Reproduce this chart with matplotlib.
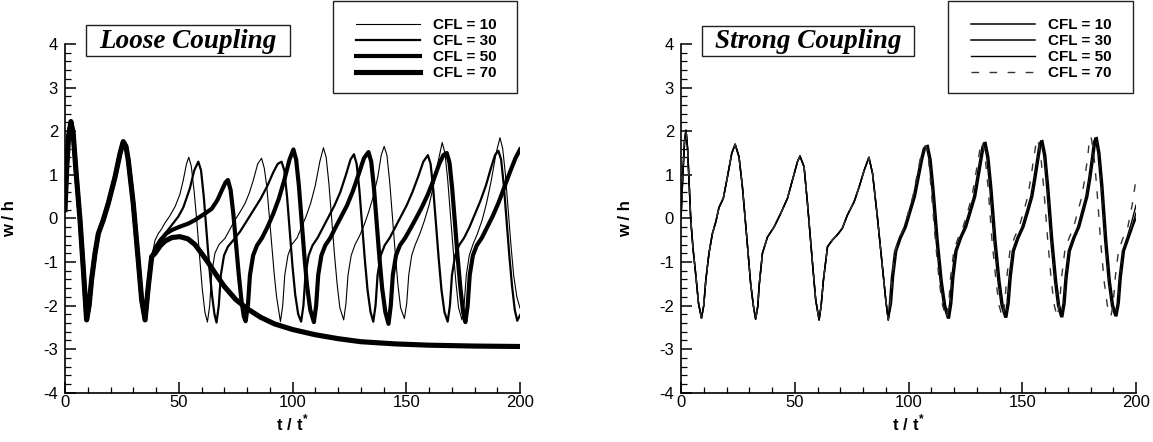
import matplotlib
matplotlib.use("Agg")
import matplotlib.pyplot as plt
from matplotlib.patches import Rectangle
from matplotlib.lines import Line2D
from matplotlib.ticker import MultipleLocator

plt.rcParams['font.family'] = ['Liberation Sans', 'DejaVu Sans']
plt.rcParams['axes.unicode_minus'] = False
plt.rcParams['mathtext.fontset'] = 'custom'
plt.rcParams['mathtext.bf'] = 'Liberation Sans:bold'
plt.rcParams['mathtext.rm'] = 'Liberation Sans'

W, H = 1153, 442

# ---------------- Loose coupling (left) ----------------
t_loose_common = [0, 0.8, 1.6, 2.6, 3.6, 4.8, 6.6, 8.1, 9.5, 10.6, 11.7, 13.2, 14.65, 16.8, 19.0,
                  22.0, 24.2, 25.6, 26.8, 27.8, 30.0, 32.2, 33.7, 35.2, 36.6, 38.1]
w_loose_common = [0.2, 1.2, 1.9, 2.22, 1.95, 1.1, -0.04, -1.2, -2.33, -2.0, -1.4, -0.8, -0.35, -0.04, 0.34,
                  0.95, 1.49, 1.76, 1.65, 1.34, 0.34, -0.96, -1.87, -2.33, -1.57, -0.88]

t_loose_10 = [39.6, 41, 42.5, 44, 46, 48.4, 50.5, 52, 53.4, 54.4, 55.5, 56.8, 58, 59.2, 60.3, 61.5, 62.6,
              63.6, 64.5, 65.9, 67.7, 70.3, 72.5, 74.7, 77, 79.1, 81, 82.8, 84.7, 86.4, 87.6, 88.7, 89.8, 90.9, 92, 93, 94.7,
              95.7, 96.6, 98, 99.7, 102, 104, 106, 108, 110, 112, 113.6, 114.8, 116, 117.2, 118.4, 119.6, 120.8, 122.5,
              123.5, 124.4, 125.8, 127.5, 129.5, 131.5, 133.5, 135.5, 137.5, 139, 140.3, 141.5, 142.7, 143.9, 145.1, 146.3, 147.5, 149.2,
              150.2, 151.1, 152.4, 154, 156, 158, 160, 162, 164, 165.8, 167, 168.2, 169.4, 170.6, 171.8, 173, 174.5,
              175.5, 176.4, 177.7, 179.3, 181.3, 183.3, 185.3, 187.3, 189.5, 191.2, 192.4, 193.6, 194.8, 196, 197.2, 198.6, 200]
w_loose_10 = [-0.5, -0.35, -0.24, -0.1, 0.05, 0.27, 0.55, 0.88, 1.25, 1.40, 1.2, 0.6, -0.1, -0.9, -1.6, -2.15, -2.38,
              -2.0, -1.26, -0.8, -0.6, -0.46, -0.25, -0.04, 0.15, 0.34, 0.58, 0.88, 1.25, 1.38, 1.15, 0.73, 0.05, -0.65, -1.3, -1.8, -2.37,
              -2.0, -1.3, -0.85, -0.6, -0.45, -0.2, 0.05, 0.35, 0.75, 1.3, 1.62, 1.4, 0.8, 0.0, -0.8, -1.5, -2.05, -2.33,
              -1.95, -1.3, -0.85, -0.6, -0.4, -0.15, 0.15, 0.5, 0.95, 1.45, 1.65, 1.45, 0.85, 0.05, -0.75, -1.5, -2.05, -2.30,
              -1.95, -1.3, -0.85, -0.6, -0.35, -0.05, 0.3, 0.75, 1.3, 1.74, 1.5, 0.9, 0.1, -0.7, -1.45, -2.05, -2.33,
              -1.95, -1.3, -0.85, -0.6, -0.35, -0.05, 0.35, 0.85, 1.5, 1.85, 1.6, 1.0, 0.2, -0.6, -1.3, -1.8, -2.06]

t_loose_30 = [39.6, 41.5, 44, 47, 49.8, 52, 54.9, 56.8, 58.6, 59.8, 61, 62.2, 63.4, 64.6, 65.7, 66.6,
              67.6, 68.5, 69.9, 71.6, 74, 77, 80, 83, 86, 89, 91.5, 93.5, 95.2, 96.4, 97.6, 98.8, 100, 101.2, 102.5, 103.8,
              104.8, 105.7, 107.1, 108.8, 111, 113.5, 116, 118.5, 121, 123.5, 125.5, 127.0, 128.2, 129.4, 130.6, 131.8, 133, 134.3, 135.5,
              136.5, 137.4, 138.8, 140.5, 142.7, 145.2, 147.7, 150.2, 152.7, 155.2, 157.5, 159.5, 160.7, 161.9, 163.1, 164.3, 165.5, 166.8, 168.2,
              169.2, 170.1, 171.5, 173.2, 175.4, 177.8, 180.2, 182.6, 185, 187.2, 189, 190.5, 191.7, 192.9, 194.1, 195.3, 196.5, 197.7, 198.8, 200]
w_loose_30 = [-0.65, -0.5, -0.35, -0.15, 0.04, 0.25, 0.69, 1.1, 1.30, 1.1, 0.5, -0.3, -1.1, -1.75, -2.2, -2.39,
              -2.0, -1.3, -0.85, -0.65, -0.5, -0.3, -0.05, 0.2, 0.45, 0.75, 1.05, 1.25, 1.30, 1.1, 0.5, -0.3, -1.1, -1.75, -2.2, -2.37,
              -2.0, -1.3, -0.85, -0.62, -0.45, -0.2, 0.05, 0.3, 0.6, 1.0, 1.35, 1.47, 1.25, 0.65, -0.15, -0.95, -1.65, -2.15, -2.37,
              -2.0, -1.3, -0.85, -0.62, -0.45, -0.2, 0.05, 0.3, 0.6, 0.95, 1.3, 1.45, 1.25, 0.65, -0.15, -0.95, -1.65, -2.15, -2.37,
              -2.0, -1.3, -0.85, -0.62, -0.45, -0.2, 0.1, 0.4, 0.75, 1.15, 1.45, 1.55, 1.35, 0.75, -0.05, -0.85, -1.55, -2.1, -2.35, -2.22]

t_loose_50 = [39.6, 42, 44.5, 46.9, 50, 54.2, 57.1, 61.5, 64.5, 67, 69, 70.5, 71.6, 72.8, 74, 75.2, 76.4, 77.6, 78.6, 79.4,
              80.4, 81.3, 82.7, 84.4, 86.6, 89, 91.5, 94, 96.5, 98.7, 100.4, 101.6, 102.8, 104, 105.2, 106.4, 107.8, 109.4,
              110.4, 111.3, 112.7, 114.4, 116.6, 119, 121.5, 124, 126.5, 129, 131.4, 133.4, 134.6, 135.8, 137, 138.2, 139.4, 140.8, 142.2,
              143.2, 144.1, 145.5, 147.2, 149.5, 152, 154.5, 157, 159.5, 162, 164.5, 166.3, 167.8, 169, 170.2, 171.4, 172.6, 173.8, 175, 176.0,
              177, 177.9, 179.3, 181, 183.2, 185.6, 188, 190.5, 193, 195.5, 198, 200]
w_loose_50 = [-0.73, -0.5, -0.35, -0.27, -0.2, -0.12, -0.04, 0.11, 0.22, 0.42, 0.65, 0.82, 0.88, 0.65, 0.1, -0.6, -1.3, -1.9, -2.25, -2.36,
              -2.0, -1.3, -0.85, -0.62, -0.45, -0.2, 0.1, 0.45, 0.9, 1.35, 1.58, 1.35, 0.75, -0.05, -0.85, -1.55, -2.1, -2.38,
              -2.0, -1.3, -0.85, -0.62, -0.45, -0.2, 0.05, 0.3, 0.62, 1.0, 1.38, 1.52, 1.3, 0.7, -0.1, -0.9, -1.6, -2.15, -2.42,
              -2.0, -1.3, -0.85, -0.62, -0.45, -0.22, 0.02, 0.27, 0.55, 0.88, 1.25, 1.45, 1.50, 1.28, 0.68, -0.1, -0.9, -1.6, -2.15, -2.38,
              -2.0, -1.3, -0.85, -0.62, -0.45, -0.2, 0.05, 0.35, 0.7, 1.05, 1.38, 1.58]

t_loose_70 = [39.6, 42, 44, 47, 50.5, 54, 57.1, 60, 63, 66, 70, 75, 80, 86, 92, 100, 110, 120, 130, 145, 160, 180, 200]
w_loose_70 = [-0.80, -0.62, -0.52, -0.44, -0.42, -0.47, -0.6, -0.8, -1.02, -1.26, -1.56, -1.86, -2.07, -2.27, -2.42,
              -2.55, -2.67, -2.76, -2.83, -2.88, -2.91, -2.93, -2.94]

# ---------------- Strong coupling (right) ----------------
t_strong_common = [0, 0.8, 1.6, 2.2, 2.9, 4.3, 5.3, 6.5, 7.7, 9.0, 10.0, 10.9, 12.3, 13.8, 15.3, 16.7, 18.6, 20.4, 22.3,
                   23.8, 25.5, 27.0, 28.9, 30.6, 31.8, 32.8, 33.8, 34.3, 35.8, 38.0, 40.9, 43.8, 46.8, 49.0, 51.2, 52.3,
                   54.1, 55.6, 57.8, 59.2, 60.7, 61.6, 62.6, 64.4, 66.5, 68.7, 70.9, 73.1, 76.1, 78.3, 80.5, 82.6,
                   84.2, 86.3, 88.5, 90.0, 91.1]
w_strong_common = [0.0, 1.0, 1.8, 2.02, 1.6, -0.04, -0.7, -1.3, -1.95, -2.29, -2.0, -1.42, -0.8, -0.35, -0.08, 0.25, 0.46, 0.95, 1.49,
                   1.70, 1.41, 0.72, -0.43, -1.49, -2.0, -2.31, -2.0, -1.57, -0.80, -0.43, -0.2, 0.11, 0.46, 0.88, 1.3, 1.43,
                   1.18, 0.34, -1.03, -1.87, -2.33, -2.0, -1.42, -0.65, -0.5, -0.38, -0.23, 0.07, 0.38, 0.72, 1.1, 1.40,
                   1.03, 0.04, -1.1, -1.87, -2.33]

t_strong_10 = [92.1, 93.0, 94.4, 96.4, 98.6, 100.6, 102.6, 104.1, 105.8, 107.0, 108.2, 109.5, 110.8, 112.6, 114.4, 115.9, 117.6,
               118.6, 119.5, 120.9, 122.9, 125.1, 127.1, 129.1, 130.4, 131.9, 132.8, 133.6, 134.9, 136.2, 138.0, 139.8, 141.2, 142.8,
               143.8, 144.7, 146.1, 148.1, 150.3, 152.3, 154.2, 155.5, 156.9, 157.8, 158.6, 159.9, 161.2, 163.0, 164.7, 166.0, 167.4,
               168.4, 169.3, 170.7, 172.7, 174.8, 176.6, 178.4, 179.7, 181.0, 181.8, 182.5, 183.7, 185.0, 186.7, 188.3, 189.7, 191.2,
               192.2, 193.1, 194.5, 196.5, 198.5, 200]
w_strong_10 = [-1.95, -1.35, -0.75, -0.45, -0.2, 0.15, 0.5, 0.9, 1.35, 1.6, 1.67, 1.35, 0.65, -0.5, -1.45, -2.0, -2.29,
               -1.95, -1.35, -0.75, -0.45, -0.2, 0.15, 0.5, 0.9, 1.35, 1.65, 1.74, 1.4, 0.7, -0.5, -1.45, -2.0, -2.27,
               -1.95, -1.35, -0.75, -0.45, -0.2, 0.15, 0.5, 0.9, 1.38, 1.68, 1.78, 1.45, 0.72, -0.5, -1.45, -2.0, -2.26,
               -1.95, -1.35, -0.75, -0.45, -0.2, 0.15, 0.5, 0.92, 1.42, 1.75, 1.85, 1.5, 0.75, -0.5, -1.45, -2.0, -2.24,
               -1.95, -1.35, -0.75, -0.45, -0.15, 0.12]

t_strong_30 = [92.5, 93.4, 94.8, 96.8, 99.0, 101.0, 103.0, 104.5, 106.2, 107.4, 108.6, 109.9, 111.2, 113.0, 114.8, 116.3, 118.0,
               119.0, 119.9, 121.3, 123.3, 125.5, 127.5, 129.5, 130.8, 132.3, 133.2, 134.0, 135.3, 136.6, 138.4, 140.2, 141.6, 143.2,
               144.2, 145.1, 146.5, 148.5, 150.7, 152.7, 154.6, 155.9, 157.3, 158.2, 159.0, 160.3, 161.6, 163.4, 165.1, 166.4, 167.8,
               168.8, 169.7, 171.1, 173.1, 175.2, 177.0, 178.8, 180.1, 181.4, 182.2, 182.9, 184.1, 185.4, 187.1, 188.7, 190.1, 191.6,
               192.6, 193.5, 194.9, 196.9, 198.9, 200]
w_strong_30 = [-1.95, -1.35, -0.75, -0.45, -0.2, 0.15, 0.5, 0.9, 1.35, 1.6, 1.68, 1.35, 0.65, -0.5, -1.45, -2.0, -2.29,
               -1.95, -1.35, -0.75, -0.45, -0.2, 0.15, 0.5, 0.9, 1.35, 1.65, 1.75, 1.4, 0.7, -0.5, -1.45, -2.0, -2.27,
               -1.95, -1.35, -0.75, -0.45, -0.2, 0.15, 0.5, 0.9, 1.38, 1.68, 1.79, 1.45, 0.72, -0.5, -1.45, -2.0, -2.26,
               -1.95, -1.35, -0.75, -0.45, -0.2, 0.15, 0.5, 0.92, 1.42, 1.75, 1.86, 1.5, 0.75, -0.5, -1.45, -2.0, -2.24,
               -1.95, -1.35, -0.75, -0.45, -0.15, 0.0]

t_strong_50 = [91.6, 92.5, 93.9, 95.9, 98.1, 100.1, 102.1, 103.6, 105.3, 106.5, 107.7, 109.0, 110.3, 112.1, 113.9, 115.4, 117.1,
               118.1, 119.0, 120.4, 122.4, 124.6, 126.6, 128.6, 129.9, 131.4, 132.3, 133.1, 134.4, 135.7, 137.5, 139.3, 140.7, 142.3,
               143.3, 144.2, 145.6, 147.6, 149.8, 151.8, 153.7, 155.0, 156.4, 157.3, 158.1, 159.4, 160.7, 162.5, 164.2, 165.5, 166.9,
               167.9, 168.8, 170.2, 172.2, 174.3, 176.1, 177.9, 179.2, 180.5, 181.3, 182.0, 183.2, 184.5, 186.2, 187.8, 189.2, 190.7,
               191.7, 192.6, 194.0, 196.0, 198.0, 200]
w_strong_50 = [-1.95, -1.35, -0.75, -0.45, -0.2, 0.15, 0.5, 0.9, 1.35, 1.6, 1.67, 1.35, 0.65, -0.5, -1.45, -2.0, -2.29,
               -1.95, -1.35, -0.75, -0.45, -0.2, 0.15, 0.5, 0.9, 1.35, 1.65, 1.74, 1.4, 0.7, -0.5, -1.45, -2.0, -2.27,
               -1.95, -1.35, -0.75, -0.45, -0.2, 0.15, 0.5, 0.9, 1.38, 1.68, 1.78, 1.45, 0.72, -0.5, -1.45, -2.0, -2.26,
               -1.95, -1.35, -0.75, -0.45, -0.2, 0.15, 0.5, 0.92, 1.42, 1.75, 1.85, 1.5, 0.75, -0.5, -1.45, -2.0, -2.24,
               -1.95, -1.35, -0.75, -0.45, -0.1, 0.3]

t_strong_70 = [91.9, 92.8, 94.1, 96.0, 98.1, 100.0, 101.9, 103.4, 105.1, 106.3, 107.6, 108.8, 110.0, 111.8, 113.5, 115.0, 116.7,
               117.7, 118.5, 119.9, 121.8, 124.0, 126.0, 127.9, 129.2, 130.7, 131.6, 132.4, 133.7, 135.0, 136.7, 138.5, 139.8, 141.3,
               142.3, 143.2, 144.6, 146.5, 148.6, 150.6, 152.4, 153.7, 155.1, 156.0, 156.8, 158.1, 159.4, 161.2, 162.8, 164.1, 165.4,
               166.4, 167.3, 168.7, 170.6, 172.6, 174.4, 176.2, 177.5, 178.8, 179.5, 180.2, 181.4, 182.7, 184.4, 186.0, 187.4, 189.0,
               190.0, 190.9, 192.3, 194.3, 196.4, 198.3, 200]
w_strong_70 = [-1.95, -1.35, -0.75, -0.45, -0.2, 0.15, 0.5, 0.9, 1.35, 1.6, 1.67, 1.35, 0.65, -0.5, -1.45, -2.0, -2.29,
               -1.95, -1.35, -0.75, -0.45, -0.2, 0.15, 0.5, 0.9, 1.35, 1.65, 1.76, 1.4, 0.7, -0.5, -1.45, -2.0, -2.27,
               -1.95, -1.35, -0.75, -0.45, -0.2, 0.15, 0.5, 0.9, 1.38, 1.7, 1.82, 1.45, 0.72, -0.5, -1.45, -2.0, -2.26,
               -1.95, -1.35, -0.75, -0.45, -0.2, 0.15, 0.5, 0.92, 1.42, 1.78, 1.88, 1.5, 0.75, -0.5, -1.45, -2.0, -2.24,
               -1.95, -1.35, -0.75, -0.45, -0.2, 0.3, 0.9]

cfl_labels = ['CFL = 10', 'CFL = 30', 'CFL = 50', 'CFL = 70']


def style_axes(ax):
    ax.set_xlim(0, 200)
    ax.set_ylim(-4, 4)
    ax.set_xticks([0, 50, 100, 150, 200])
    ax.set_yticks([-4, -3, -2, -1, 0, 1, 2, 3, 4])
    ax.xaxis.set_minor_locator(MultipleLocator(10))
    ax.yaxis.set_minor_locator(MultipleLocator(0.2))
    for s in ['top', 'right']:
        ax.spines[s].set_visible(False)
    for s in ['left', 'bottom']:
        ax.spines[s].set_linewidth(1.2)
    ax.tick_params(which='major', direction='in', length=8, width=1.1)
    ax.tick_params(which='minor', direction='in', length=4.5, width=0.9)
    ax.tick_params(axis='y', labelsize=12, pad=5)
    ax.tick_params(axis='x', labelsize=12, pad=2)
    ax.set_xlabel(r'$\mathbf{t\ /\ t}^{\mathbf{*}}$', fontsize=12)
    ax.set_ylabel('w / h', fontsize=12, fontweight='bold')
    ax.xaxis.set_label_coords(0.5, -0.058)
    ax.yaxis.set_label_coords(-0.105, 0.5)


def fig_rect(x0, y0, x1, y1):
    return Rectangle((x0 / W, 1 - y1 / H), (x1 - x0) / W, (y1 - y0) / H,
                     transform=fig.transFigure, fill=False, edgecolor='#222222', linewidth=1.0)


fig = plt.figure(figsize=(W / 100, H / 100), dpi=100)
axL = fig.add_axes([65 / W, 1 - 392.7 / H, 455 / W, 348.7 / H])
axR = fig.add_axes([681 / W, 1 - 392.7 / H, 455 / W, 348.7 / H])

lw_loose = [0.8, 1.6, 3.0, 3.7]
axL.plot(t_loose_common + t_loose_10, w_loose_common + w_loose_10, color='black', lw=lw_loose[0])
axL.plot(t_loose_common + t_loose_30, w_loose_common + w_loose_30, color='black', lw=lw_loose[1])
axL.plot(t_loose_common + t_loose_50, w_loose_common + w_loose_50, color='black', lw=lw_loose[2])
axL.plot(t_loose_common + t_loose_70, w_loose_common + w_loose_70, color='black', lw=lw_loose[3])
style_axes(axL)

dash70 = (0, (5.5, 7.5))
axR.plot(t_strong_common + t_strong_10, w_strong_common + w_strong_10, color='black', lw=1.1)
axR.plot(t_strong_common + t_strong_30, w_strong_common + w_strong_30, color='black', lw=1.1)
axR.plot(t_strong_common + t_strong_50, w_strong_common + w_strong_50, color='black', lw=1.0)
axR.plot(t_strong_common + t_strong_70, w_strong_common + w_strong_70, color='#333333', lw=1.0, linestyle=dash70)
style_axes(axR)

# title boxes
fig.add_artist(fig_rect(86, 25, 290, 56))
fig.text(188 / W, 1 - 41 / H, 'Loose Coupling', family='Liberation Serif', fontweight='bold',
         style='italic', fontsize=19.5, ha='center', va='center')
fig.add_artist(fig_rect(702, 26, 914, 56))
fig.text(808 / W, 1 - 41 / H, 'Strong Coupling', family='Liberation Serif', fontweight='bold',
         style='italic', fontsize=19.5, ha='center', va='center')

# legends
fig.add_artist(fig_rect(333, 1, 517, 93))
fig.add_artist(fig_rect(948, 1, 1133, 93))
hL = [Line2D([], [], color='black', lw=w) for w in lw_loose]
hR = [Line2D([], [], color='black', lw=1.1), Line2D([], [], color='black', lw=1.1),
      Line2D([], [], color='black', lw=1.0), Line2D([], [], color='#333333', lw=1.0, linestyle=dash70)]
for handles, x0 in [(hL, 356), (hR, 971)]:
    fig.legend(handles, cfl_labels, loc='upper left', bbox_to_anchor=(x0 / W, 1 - 18 / H),
               frameon=False, borderpad=0, borderaxespad=0, handlelength=4.2, handletextpad=0.85,
               labelspacing=0.14, prop={'weight': 'bold', 'size': 11})

fig.savefig('out.png', dpi=100)
